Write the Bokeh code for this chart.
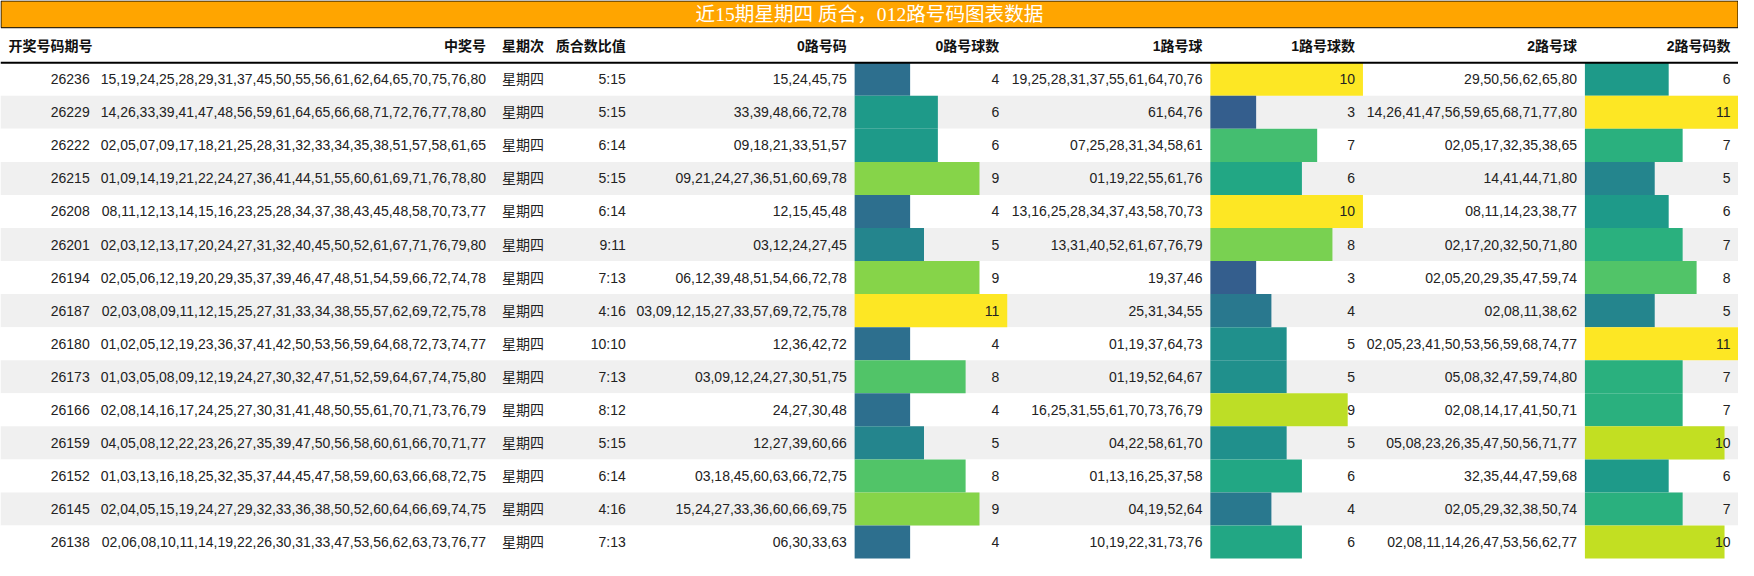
from bokeh.plotting import figure
from bokeh.models import Range1d, ColumnDataSource
from bokeh.transform import linear_cmap
from bokeh.palettes import Viridis256
from bokeh.core.properties import value
from bokeh.embed import file_html
from bokeh.resources import INLINE

title_text = "近15期星期四 质合，012路号码图表数据"
headers = ["开奖号码期号", "中奖号", "星期次", "质合数比值", "0路号码",
           "0路号球数", "1路号球", "1路号球数", "2路号球", "2路号码数"]

periods = ["26236", "26229", "26222", "26215", "26208", "26201", "26194", "26187",
           "26180", "26173", "26166", "26159", "26152", "26145", "26138"]
winning = [
    "15,19,24,25,28,29,31,37,45,50,55,56,61,62,64,65,70,75,76,80",
    "14,26,33,39,41,47,48,56,59,61,64,65,66,68,71,72,76,77,78,80",
    "02,05,07,09,17,18,21,25,28,31,32,33,34,35,38,51,57,58,61,65",
    "01,09,14,19,21,22,24,27,36,41,44,51,55,60,61,69,71,76,78,80",
    "08,11,12,13,14,15,16,23,25,28,34,37,38,43,45,48,58,70,73,77",
    "02,03,12,13,17,20,24,27,31,32,40,45,50,52,61,67,71,76,79,80",
    "02,05,06,12,19,20,29,35,37,39,46,47,48,51,54,59,66,72,74,78",
    "02,03,08,09,11,12,15,25,27,31,33,34,38,55,57,62,69,72,75,78",
    "01,02,05,12,19,23,36,37,41,42,50,53,56,59,64,68,72,73,74,77",
    "01,03,05,08,09,12,19,24,27,30,32,47,51,52,59,64,67,74,75,80",
    "02,08,14,16,17,24,25,27,30,31,41,48,50,55,61,70,71,73,76,79",
    "04,05,08,12,22,23,26,27,35,39,47,50,56,58,60,61,66,70,71,77",
    "01,03,13,16,18,25,32,35,37,44,45,47,58,59,60,63,66,68,72,75",
    "02,04,05,15,19,24,27,29,32,33,36,38,50,52,60,64,66,69,74,75",
    "02,06,08,10,11,14,19,22,26,30,31,33,47,53,56,62,63,73,76,77",
]
weekday = ["星期四"] * 15
ratio = ["5:15", "5:15", "6:14", "5:15", "6:14", "9:11", "7:13", "4:16",
         "10:10", "7:13", "8:12", "5:15", "6:14", "4:16", "7:13"]
road0 = ["15,24,45,75", "33,39,48,66,72,78", "09,18,21,33,51,57",
         "09,21,24,27,36,51,60,69,78", "12,15,45,48", "03,12,24,27,45",
         "06,12,39,48,51,54,66,72,78", "03,09,12,15,27,33,57,69,72,75,78",
         "12,36,42,72", "03,09,12,24,27,30,51,75", "24,27,30,48",
         "12,27,39,60,66", "03,18,45,60,63,66,72,75",
         "15,24,27,33,36,60,66,69,75", "06,30,33,63"]
n0 = [4, 6, 6, 9, 4, 5, 9, 11, 4, 8, 4, 5, 8, 9, 4]
road1 = ["19,25,28,31,37,55,61,64,70,76", "61,64,76", "07,25,28,31,34,58,61",
         "01,19,22,55,61,76", "13,16,25,28,34,37,43,58,70,73",
         "13,31,40,52,61,67,76,79", "19,37,46", "25,31,34,55",
         "01,19,37,64,73", "01,19,52,64,67", "16,25,31,55,61,70,73,76,79",
         "04,22,58,61,70", "01,13,16,25,37,58", "04,19,52,64",
         "10,19,22,31,73,76"]
n1 = [10, 3, 7, 6, 10, 8, 3, 4, 5, 5, 9, 5, 6, 4, 6]
road2 = ["29,50,56,62,65,80", "14,26,41,47,56,59,65,68,71,77,80",
         "02,05,17,32,35,38,65", "14,41,44,71,80", "08,11,14,23,38,77",
         "02,17,20,32,50,71,80", "02,05,20,29,35,47,59,74", "02,08,11,38,62",
         "02,05,23,41,50,53,56,59,68,74,77", "05,08,32,47,59,74,80",
         "02,08,14,17,41,50,71", "05,08,23,26,35,47,50,56,71,77",
         "32,35,44,47,59,68", "02,05,29,32,38,50,74",
         "02,08,11,14,26,47,53,56,62,77"]
n2 = [6, 11, 7, 5, 6, 7, 8, 5, 11, 7, 7, 10, 6, 7, 10]

# ---- layout (reference pixel space) ----
W, H = 1754, 576
PW, PH = 1738, 560
TITLE_B = 28
ROW_TOP = 64
ROW_H = 34
edges = [0, 98, 498, 554, 639, 862, 1016, 1221, 1375, 1599, 1754]
PAD = 8
FONT = "Liberation Sans, Noto Sans CJK SC, sans-serif"
TFONT = "Liberation Serif, Noto Sans CJK SC, serif"
TXT = "#222222"

nrows = len(periods)

p = figure(width=PW, height=PH, x_range=Range1d(0, W), y_range=Range1d(H, 0),
           output_backend="svg", toolbar_location=None, min_border=0,
           x_axis_location=None, y_axis_location=None, outline_line_color=None,
           background_fill_color="white", border_fill_color="white")
p.grid.grid_line_color = None

p.extra_y_ranges = {"rows": Range1d(start=(H - ROW_TOP) / ROW_H, end=-ROW_TOP / ROW_H)}


def bar_range(a, b, m):
    span = W * m / (b - a)
    start = -a * m / (b - a)
    return Range1d(start, start + span)


m0, m1, m2 = max(n0), max(n1), max(n2)
p.extra_x_ranges = {
    "c0": bar_range(edges[5], edges[6], m0),
    "c1": bar_range(edges[7], edges[8], m1),
    "c2": bar_range(edges[9], edges[10], m2),
}

ycent = [i + 0.5 for i in range(nrows)]
row_bg = ["white" if i % 2 == 0 else "#f0f0f0" for i in range(nrows)]

# row backgrounds
p.hbar(y=ycent, height=1, left=0, right=W, fill_color=row_bg, line_color=None,
       y_range_name="rows")

# bars
for key, vals, m in (("c0", n0, m0), ("c1", n1, m1), ("c2", n2, m2)):
    src = ColumnDataSource(dict(y=ycent, v=vals))
    p.hbar(y="y", height=1, left=0, right="v", source=src,
           fill_color=linear_cmap("v", Viridis256, 0, m), line_color=None,
           x_range_name=key, y_range_name="rows")

# title bar
p.quad(left=0.5, right=W - 0.5, top=0.5, bottom=TITLE_B, fill_color="#FFA500",
       line_color="black", line_width=1)
p.text(x=[W / 2], y=[TITLE_B / 2 + 0.5], text=[title_text], text_align="center",
       text_baseline="middle", text_font=value(TFONT), text_font_size="19.6px",
       text_color="white")

# header
left_cols = {0, 2}
for j, h in enumerate(headers):
    if j in left_cols:
        x, al = edges[j] + PAD, "left"
    else:
        x, al = edges[j + 1] - PAD, "right"
    p.text(x=[x], y=[47], text=[h], text_align=al, text_baseline="middle",
           text_font=value(FONT), text_font_size="14px", text_font_style="bold",
           text_color="#111111")
p.segment(x0=[0], y0=[ROW_TOP], x1=[W], y1=[ROW_TOP], line_color="black",
          line_width=2)

# cells
columns = [periods, winning, weekday, ratio, road0, [str(v) for v in n0],
           road1, [str(v) for v in n1], road2, [str(v) for v in n2]]
for j, col in enumerate(columns):
    if j == 2:
        x, al = edges[j] + PAD, "left"
    else:
        x, al = edges[j + 1] - PAD, "right"
    src = ColumnDataSource(dict(y=ycent, t=col))
    p.text(x=x, y="y", text="t", source=src, text_align=al,
           text_baseline="middle", text_font=value(FONT), text_font_size="14px",
           text_color=TXT, y_range_name="rows")

open("out.html", "w").write(file_html(p, INLINE))
